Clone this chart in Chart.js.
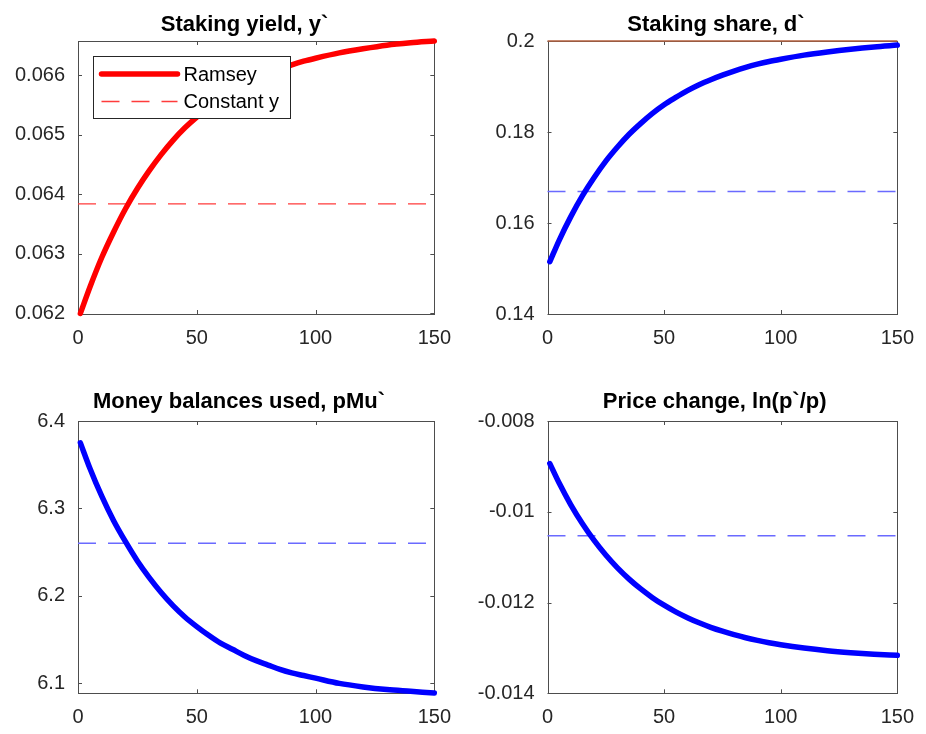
<!DOCTYPE html>
<html>
<head>
<meta charset="utf-8">
<title>Ramsey vs constant yield</title>
<script src="https://cdn.jsdelivr.net/npm/chart.js@4.4.0/dist/chart.umd.min.js"></script>
<style>
    html, body { margin: 0; padding: 0; background: #fff; }
    #wrap { position: relative; width: 926px; height: 734px; }
    #wrap canvas { position: absolute; }
</style>
</head>
<body>
<div id="wrap">
    <canvas id="yield-chart" width="463" height="367" style="left:0;top:0"></canvas>
    <canvas id="share-chart" width="463" height="367" style="left:463px;top:0"></canvas>
    <canvas id="money-chart" width="463" height="367" style="left:0;top:367px"></canvas>
    <canvas id="price-chart" width="463" height="367" style="left:463px;top:367px"></canvas>
</div>
<script>
// --- Data ---
const steps = [1, 5, 10, 15, 20, 25, 30, 35, 40, 45, 50, 55, 60, 65, 70, 75, 80, 85, 90, 95, 100, 110, 120, 130, 140, 150];
const flatSteps = [0, 150];
const xTicks = [0, 50, 100, 150];
const legendLabels = ['Ramsey', 'Constant y'];

// Staking yield
const yieldRamsey = [0.06200, 0.06244, 0.06294, 0.06337, 0.06376, 0.06410, 0.06440, 0.06467, 0.06491, 0.06512,
    0.06530, 0.06546, 0.06561, 0.06573, 0.06585, 0.06594, 0.06603, 0.06611, 0.06618, 0.06624,
    0.06629, 0.06638, 0.06645, 0.06651, 0.06655, 0.06658];
const yieldConstant = [0.06384, 0.06384];
const yieldTicks = [0.062, 0.063, 0.064, 0.065, 0.066];

// Staking share
const shareRamsey = [0.1515, 0.1562, 0.1614, 0.1660, 0.1700, 0.1736, 0.1767, 0.1795, 0.1819, 0.1841,
    0.1860, 0.1876, 0.1891, 0.1904, 0.1915, 0.1925, 0.1934, 0.1942, 0.1949, 0.1955,
    0.1960, 0.1969, 0.1976, 0.1982, 0.1987, 0.1991];
const shareConstant = [0.1669, 0.1669];
const shareCap = [0.2, 0.2];
const shareTicks = [0.14, 0.16, 0.18, 0.2];

// Money balances used
const moneyRamsey = [6.375, 6.346, 6.314, 6.286, 6.262, 6.240, 6.221, 6.204, 6.189, 6.176,
    6.165, 6.155, 6.146, 6.139, 6.132, 6.126, 6.121, 6.116, 6.112, 6.109,
    6.106, 6.100, 6.096, 6.093, 6.091, 6.089];
const moneyConstant = [6.2603, 6.2603];
const moneyTicks = [6.1, 6.2, 6.3, 6.4];

// Price change
const priceRamsey = [-0.008938, -0.009368, -0.009846, -0.010264, -0.010632, -0.010954, -0.011236, -0.011484, -0.011701, -0.011892,
    -0.012059, -0.012206, -0.012334, -0.012447, -0.012546, -0.012632, -0.012708, -0.012775, -0.012833, -0.012885,
    -0.012930, -0.013004, -0.013061, -0.013104, -0.013138, -0.013164];
const priceConstant = [-0.010527, -0.010527];
const priceTicks = [-0.014, -0.012, -0.01, -0.008];

// --- Styling ---
const FONT = "'Liberation Sans', Arial, Helvetica, sans-serif";
const AXIS_COLOR = '#4d4d4d';
const TEXT_COLOR = '#262626';
const RED = '#ff0000';
const BLUE = '#0000ff';
const RED_DASH = '#ff3b3b';
const BLUE_DASH = '#6a6aff';
const DASH = [18, 12];

const toPoints = (xs, ys) => xs.map((x, i) => ({ x: x, y: ys[i] }));

const curve = (label, ys, color) => ({
    label: label,
    data: toPoints(steps, ys),
    borderColor: color,
    borderWidth: 5.5,
    borderCapStyle: 'round',
    pointRadius: 0,
    cubicInterpolationMode: 'monotone',
    clip: 6
});

const flatLine = (label, ys, color, dash, width) => ({
    label: label,
    data: toPoints(flatSteps, ys),
    borderColor: color,
    borderWidth: width,
    borderDash: dash,
    pointRadius: 0,
    clip: 2
});

// box round the axes with inward ticks on all four sides
const boxTicks = {
    id: 'boxTicks',
    beforeDatasetsDraw(chart) {
        const { ctx, chartArea: a, scales } = chart;
        ctx.save();
        ctx.strokeStyle = AXIS_COLOR;
        ctx.lineWidth = 1;
        ctx.strokeRect(Math.round(a.left) + 0.5, Math.round(a.top) + 0.5,
            Math.round(a.right) - Math.round(a.left), Math.round(a.bottom) - Math.round(a.top));
        ctx.beginPath();
        scales.x.ticks.forEach(t => {
            const px = Math.round(scales.x.getPixelForValue(t.value)) + 0.5;
            ctx.moveTo(px, a.bottom); ctx.lineTo(px, a.bottom - 4);
            ctx.moveTo(px, a.top); ctx.lineTo(px, a.top + 4);
        });
        scales.y.ticks.forEach(t => {
            const py = Math.round(scales.y.getPixelForValue(t.value)) + 0.5;
            ctx.moveTo(a.left, py); ctx.lineTo(a.left + 4, py);
            ctx.moveTo(a.right, py); ctx.lineTo(a.right - 4, py);
        });
        ctx.stroke();
        ctx.restore();
    }
};

// legend box inside the first panel
const legendBox = {
    id: 'legendBox',
    afterDatasetsDraw(chart) {
        const { ctx, chartArea: a } = chart;
        const x = Math.round(a.left) + 15.5, y = Math.round(a.top) + 15.5;
        const w = 197, h = 62;
        const samples = [
            { color: RED, width: 5.5, dash: [], cap: 'round' },
            { color: RED_DASH, width: 1.3, dash: DASH, cap: 'butt' }
        ];
        const rows = [17.5, 45];
        ctx.save();
        ctx.fillStyle = '#fff';
        ctx.fillRect(x, y, w, h);
        ctx.strokeStyle = '#262626';
        ctx.lineWidth = 1;
        ctx.strokeRect(x, y, w, h);
        legendLabels.forEach((label, i) => {
            const s = samples[i];
            const ly = y + rows[i];
            ctx.beginPath();
            ctx.strokeStyle = s.color;
            ctx.lineWidth = s.width;
            ctx.lineCap = s.cap;
            ctx.setLineDash(s.dash);
            ctx.moveTo(x + 8, ly);
            ctx.lineTo(x + 84, ly);
            ctx.stroke();
            ctx.setLineDash([]);
            ctx.fillStyle = '#000';
            ctx.font = '20px ' + FONT;
            ctx.textBaseline = 'middle';
            ctx.fillText(label, x + 90, ly + 1);
        });
        ctx.restore();
    }
};

function makePanel(canvasId, cfg) {
    const panelTitle = {
        id: 'panelTitle',
        afterDraw(chart) {
            const ctx = chart.ctx;
            ctx.save();
            ctx.fillStyle = '#000';
            ctx.font = 'bold 22px ' + FONT;
            ctx.textAlign = 'center';
            ctx.textBaseline = 'alphabetic';
            ctx.fillText(cfg.title, cfg.titleX, cfg.titleY);
            ctx.restore();
        }
    };

    return new Chart(document.getElementById(canvasId), {
        type: 'line',
        data: { datasets: cfg.datasets },
        options: {
            responsive: false,
            animation: false,
            devicePixelRatio: 1,
            layout: { padding: { top: cfg.top, right: cfg.right, left: 0, bottom: 0 } },
            plugins: {
                legend: { display: false },
                tooltip: { enabled: false },
                title: { display: false }
            },
            scales: {
                x: {
                    type: 'linear',
                    min: 0,
                    max: 150,
                    grid: { display: false, drawTicks: false },
                    border: { display: false },
                    afterBuildTicks: s => { s.ticks = xTicks.map(v => ({ value: v })); },
                    afterFit: s => { s.height = cfg.xAxisHeight; },
                    ticks: {
                        font: { family: FONT, size: 20 },
                        color: TEXT_COLOR,
                        padding: 12,
                        maxRotation: 0,
                        callback: v => String(v)
                    }
                },
                y: {
                    type: 'linear',
                    min: cfg.yMin,
                    max: cfg.yMax,
                    grid: { display: false, drawTicks: false },
                    border: { display: false },
                    afterBuildTicks: s => { s.ticks = cfg.yTicks.map(v => ({ value: v })); },
                    afterFit: s => { s.width = cfg.left; },
                    ticks: {
                        font: { family: FONT, size: 20 },
                        color: TEXT_COLOR,
                        padding: 13,
                        callback: v => String(v)
                    }
                }
            }
        },
        plugins: [boxTicks, panelTitle].concat(cfg.extra || [])
    });
}

// --- Panels ---
makePanel('yield-chart', {
    title: 'Staking yield, y`', titleX: 244.5, titleY: 31,
    top: 41, right: 28, left: 78, xAxisHeight: 53,
    yMin: 0.06199, yMax: 0.06658, yTicks: yieldTicks,
    datasets: [
        curve(legendLabels[0], yieldRamsey, RED),
        flatLine(legendLabels[1], yieldConstant, RED_DASH, DASH, 1.3)
    ],
    extra: [legendBox]
});

makePanel('share-chart', {
    title: 'Staking share, d`', titleX: 253, titleY: 31,
    top: 41, right: 21, left: 84.5, xAxisHeight: 53,
    yMin: 0.14, yMax: 0.2, yTicks: shareTicks,
    datasets: [
        curve('Ramsey', shareRamsey, BLUE),
        flatLine('Constant y', shareConstant, BLUE_DASH, DASH, 1.5),
        flatLine('Cap', shareCap, '#b5603e', [], 1.5)
    ]
});

makePanel('money-chart', {
    title: 'Money balances used, pMu`', titleX: 239, titleY: 41,
    top: 54, right: 28, left: 78, xAxisHeight: 40.7,
    yMin: 6.0887, yMax: 6.4, yTicks: moneyTicks,
    datasets: [
        curve('Ramsey', moneyRamsey, BLUE),
        flatLine('Constant y', moneyConstant, BLUE_DASH, DASH, 1.5)
    ]
});

makePanel('price-chart', {
    title: 'Price change, ln(p`/p)', titleX: 251.7, titleY: 41,
    top: 54, right: 21, left: 84.5, xAxisHeight: 40.7,
    yMin: -0.014, yMax: -0.008, yTicks: priceTicks,
    datasets: [
        curve('Ramsey', priceRamsey, BLUE),
        flatLine('Constant y', priceConstant, BLUE_DASH, DASH, 1.5)
    ]
});
</script>
</body>
</html>
